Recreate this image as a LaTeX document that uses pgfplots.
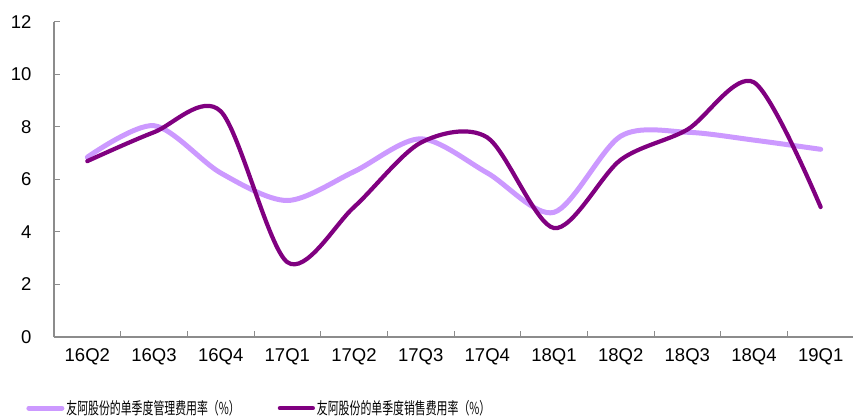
\documentclass[border=0pt]{standalone}
\usepackage{pgfplots}
\pgfplotsset{compat=1.18}
\usepackage{fontspec}
\setmainfont{Liberation Sans}
\newfontfamily\cjk[FakeStretch=0.66]{Noto Sans CJK SC}
\definecolor{lightp}{HTML}{CC99FF}
\definecolor{darkp}{HTML}{800080}
\definecolor{axgray}{HTML}{8C8C8C}
\begin{document}
\begin{tikzpicture}
\path[use as bounding box] (-54bp,-82bp) rectangle (799bp,337bp);
\begin{axis}[
  at={(0,0)}, anchor=south west,
  scale only axis,
  width=800bp, height=315bp,
  xmin=-0.5, xmax=11.5,
  ymin=0, ymax=12,
  ytick={0,2,...,12},
  xtick={0,...,11},
  xticklabels={16Q2,16Q3,16Q4,17Q1,17Q2,17Q3,17Q4,18Q1,18Q2,18Q3,18Q4,19Q1},
  minor xtick={0.5,1.5,...,10.5},
  axis x line*=bottom, axis y line*=left,
  axis line style={axgray, line width=1.2bp, -},
  major tick style={axgray, line width=1bp},
  minor tick style={axgray, line width=1bp},
  tickpos=left,
  tick align=inside,
  major tick length=6bp, minor tick length=6bp,
  x tick style={draw=none},
  minor x tick style={draw=axgray},
  ticklabel style={font=\fontsize{18.5bp}{20bp}\selectfont},
  /pgf/number format/assume math mode=true,
  yticklabel style={xshift=-19bp},
  xticklabel style={yshift=-8bp},
  legend columns=2,
  legend style={at={(-0.036,-0.226)}, anchor=west, draw=none, fill=none,
    inner sep=1bp,
    font=\cjk\fontsize{16.5bp}{17bp}\selectfont,
    /tikz/every even column/.append style={column sep=36bp}},
  legend image code/.code={\draw[#1, line cap=round] (0bp,0bp) -- (33bp,0bp);},
]
\addplot[lightp, line width=5bp, line cap=round, smooth, tension=0.5] coordinates {
(0,6.85) (1,8.05) (2,6.25) (3,5.2) (4,6.3) (5,7.55) (6,6.25) (7,4.75) (8,7.65) (9,7.8) (10,7.5) (11,7.15)};
\addlegendentry{友阿股份的单季度管理费用率（\%）}
\addplot[darkp, line width=4.2bp, line cap=round, smooth, tension=0.5] coordinates {
(0,6.7) (1,7.8) (2,8.6) (3,2.85) (4,4.95) (5,7.4) (6,7.6) (7,4.15) (8,6.75) (9,7.9) (10,9.7) (11,4.95)};
\addlegendentry{友阿股份的单季度销售费用率（\%）}
\end{axis}
\end{tikzpicture}
\end{document}
